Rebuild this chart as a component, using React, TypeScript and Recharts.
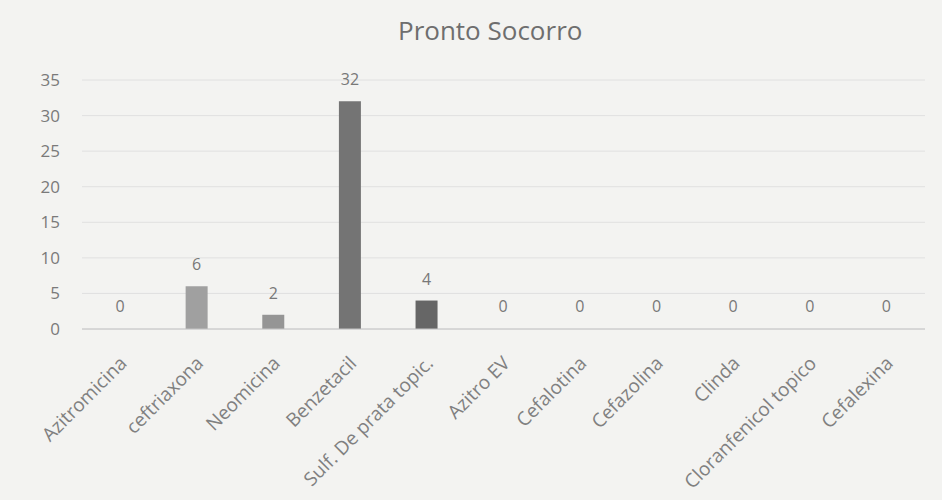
import React from "react";
import {
  BarChart,
  Bar,
  XAxis,
  YAxis,
  CartesianGrid,
  LabelList,
  Cell,
} from "recharts";

const categories = [
  "Azitromicina",
  "ceftriaxona",
  "Neomicina",
  "Benzetacil",
  "Sulf. De prata topic.",
  "Azitro EV",
  "Cefalotina",
  "Cefazolina",
  "Clinda",
  "Cloranfenicol topico",
  "Cefalexina",
];
const values = [0, 6, 2, 32, 4, 0, 0, 0, 0, 0, 0];
const barColors = [
  "#8c8c8c",
  "#a0a0a0",
  "#959595",
  "#747474",
  "#666666",
  "#8c8c8c",
  "#8c8c8c",
  "#8c8c8c",
  "#8c8c8c",
  "#8c8c8c",
  "#8c8c8c",
];
const yTicks = [0, 5, 10, 15, 20, 25, 30, 35];

const data = categories.map((name, i) => ({ name, value: values[i] }));

const FONT = "'Open Sans', 'Liberation Sans', sans-serif";

function AngledTick(props: any) {
  const { x, y, payload } = props;
  return (
    <g transform={`translate(${x + 4},${y + 24})`}>
      <text
        transform="rotate(-45)"
        textAnchor="end"
        dy={5}
        fill="#808080"
        fontSize={19}
        fontFamily={FONT}
      >
        {payload.value}
      </text>
    </g>
  );
}

export default function App() {
  return (
    <div
      style={{
        position: "fixed",
        left: 0,
        top: 0,
        width: 942,
        height: 500,
        background: "#f3f3f1",
        fontFamily: FONT,
      }}
    >
      <div
        style={{
          position: "absolute",
          top: 12,
          left: 398,
          fontSize: 26,
          color: "#6e6e6e",
          fontFamily: FONT,
          whiteSpace: "nowrap",
        }}
      >
        Pronto Socorro
      </div>
      <BarChart
        width={942}
        height={500}
        data={data}
        margin={{ top: 80, right: 17, left: 0, bottom: 0 }}
        barSize={22}
      >
        <CartesianGrid vertical={false} stroke="#e0e0e0" />
        <XAxis
          dataKey="name"
          interval={0}
          tick={<AngledTick />}
          tickLine={false}
          axisLine={{ stroke: "#c4c4c4" }}
          height={171}
        />
        <YAxis
          domain={[0, 35]}
          ticks={yTicks}
          width={82}
          axisLine={false}
          tickLine={false}
          tick={{ fill: "#7a7a7a", fontSize: 17, fontFamily: FONT }}
          tickMargin={16}
        />
        <Bar dataKey="value" isAnimationActive={false} minPointSize={1}>
          {data.map((d, i) => (
            <Cell
              key={d.name}
              fill={barColors[i]}
              fillOpacity={d.value === 0 ? 0 : 1}
            />
          ))}
          <LabelList
            dataKey="value"
            position="top"
            offset={16}
            fill="#787878"
            fontSize={16}
            fontFamily={FONT}
          />
        </Bar>
      </BarChart>
    </div>
  );
}
